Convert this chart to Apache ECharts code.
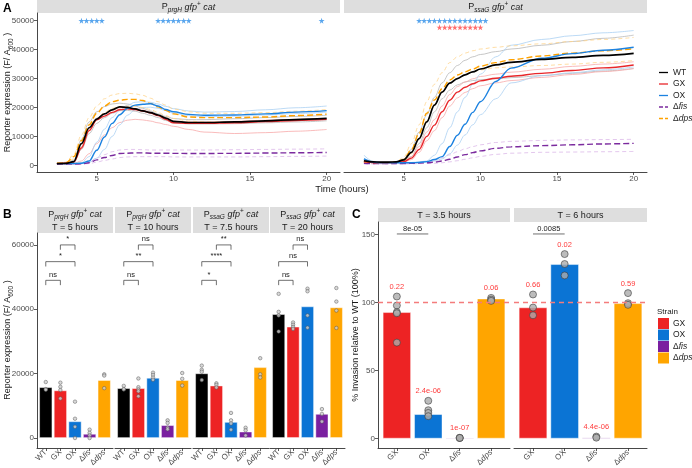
<!DOCTYPE html>
<html><head><meta charset="utf-8">
<script src="https://cdn.jsdelivr.net/npm/echarts@6/dist/echarts.min.js"></script>
<style>html,body{margin:0;padding:0;background:#fff}#c{width:692px;height:468px}</style>
</head><body><div id="c"></div>
<script>
// ---------------- DATA ----------------
const strains = ['WT','GX','OX','Δfis','Δdps'];
const timeA = [2.4,3,3.5,4,4.5,5,5.5,6,6.5,7,7.5,8,8.5,9,9.5,10,11,12,14,16,18,20];
const ticksAx = [5,10,15,20];
const ticksAy = [0,10000,20000,30000,40000,50000];
const ticksBy = [0,20000,40000,60000];
const ticksCy = [0,50,100,150];

// PprgH reporter (panel A left)
const prgH_WT  = [600,700,1300,7500,13000,16000,17800,19200,20200,20000,19500,18800,18200,17400,16300,15200,14800,14800,15000,15400,15800,16200];
const prgH_GX  = [600,700,1200,6000,12000,15700,17000,18300,19200,19500,19300,18800,18100,17200,15900,14700,14500,14500,14700,15100,15500,15900];
const prgH_OX  = [600,600,650,700,1500,5200,9800,14500,17500,19700,20800,21100,21300,20500,19300,18500,17600,17300,17400,17800,18400,18900];
const prgH_fis = [450,450,450,500,900,1900,2700,3400,4100,4200,4300,4300,4200,4200,4200,4150,4100,4100,4150,4250,4350,4450];
const prgH_dps = [700,900,3000,8500,14000,18000,20500,22000,22500,22800,22800,22400,21400,20200,19000,17800,16700,16500,16500,16700,17200,17700];
const prgH_WT_hi  = [600,800,1800,9000,15000,18500,20300,21200,21500,21200,20500,19700,18800,17800,16900,16200,15800,15800,16100,16500,16900,17300];
const prgH_WT_lo  = [600,650,1000,5500,11000,14500,16500,18000,18900,19000,18700,18000,17300,16500,15500,14700,14300,14300,14400,14700,15000,15400];
const prgH_GX_hi  = [600,700,1300,6500,12500,16300,17800,19000,19800,20000,19700,19100,18400,17400,16200,15300,15000,15000,15200,15600,15900,16200];
const prgH_GX_lo  = [600,600,700,1500,4000,7500,10500,13000,14800,15600,15900,15700,15300,14700,14100,13500,12400,11500,11000,11300,11800,12400];
const prgH_OX_hi  = [600,600,700,900,3000,8000,12500,16500,19000,20800,21800,22000,21800,21200,20400,19600,18800,18400,18600,19200,19900,20500];
const prgH_OX_lo  = [600,600,600,650,1000,2500,5500,10000,14000,17300,19200,20000,20100,19700,18900,18000,17200,16800,17000,17400,17900,18400];
const prgH_fis_hi = [500,500,500,600,1100,2500,3700,4700,5300,5500,5500,5400,5300,5300,5300,5300,5300,5300,5400,5500,5600,5700];
const prgH_fis_lo = [400,400,400,450,600,1100,1700,2200,2700,2900,3000,3000,3000,3000,3000,2900,2900,2900,2900,3000,3100,3200];
const prgH_dps_hi = [800,1100,3800,10500,16500,20500,23000,24300,24800,24900,24700,24200,23200,22000,20800,19500,18500,18000,18000,18200,18700,19300];
const prgH_dps_lo = [600,800,2200,6500,12000,15800,18300,19700,20300,20500,20400,20000,19300,18300,17200,16200,15300,15000,15000,15200,15700,16200];

// PssaG reporter (panel A right)
const ssaG_WT  = [1600,1200,1100,1100,1200,1900,4500,9200,15000,20800,25300,28400,30000,31300,32300,33300,34700,35600,36600,37300,38000,38700];
const ssaG_GX  = [1300,1000,900,900,1000,1300,2500,5500,10000,13900,18500,22500,25300,27000,28200,29200,30100,30800,31800,32800,33700,34700];
const ssaG_OX  = [2200,1100,900,900,900,900,900,1000,1300,2000,3000,6500,10400,14200,18300,22000,29000,33600,37000,38600,39800,40800];
const ssaG_fis = [700,600,600,600,600,600,700,800,900,1100,1500,2100,2900,3700,4400,5000,5900,6400,6800,7100,7400,7600];
const ssaG_dps = [1300,1000,900,900,1100,2000,5500,11000,18000,22600,26500,29500,31200,32300,33300,34300,35500,36500,37800,38800,39600,40300];
const ssaG_WT_hi  = [1800,1300,1200,1200,1300,2200,5500,11500,17500,23500,28500,32000,34500,36300,37500,38300,39300,40200,41500,42800,43900,45000];
const ssaG_WT_lo  = [1500,1100,1000,1000,1100,1600,3000,7500,13000,18500,23000,26000,27800,28800,29300,29600,29900,30300,31000,31800,32600,33500];
const ssaG_GX_hi  = [1400,1100,1000,1000,1100,1500,3000,6500,11500,15800,20500,24500,27200,28800,29900,30700,31500,32200,33200,34200,35000,35800];
const ssaG_GX_lo  = [1200,950,850,850,900,1100,2000,4500,8500,12000,16500,20500,23300,25200,26500,27500,28500,29300,30400,31400,32400,33400];
const ssaG_OX_hi  = [3500,1400,1000,1000,1000,1000,1000,1200,1500,3500,7500,13000,18500,23500,28000,31500,37500,41500,43500,44800,45800,46600];
const ssaG_OX_lo  = [2500,1200,900,900,900,900,900,1000,1200,1500,2200,4000,7000,10500,14000,17500,23000,28500,31000,32000,33000,34000];
const ssaG_fis_hi = [900,700,700,700,700,700,800,1000,1300,1800,2600,3600,4700,5700,6500,7100,7900,8300,8600,8800,8900,9000];
const ssaG_fis_lo = [500,500,500,500,500,500,550,600,650,700,900,1200,1600,2100,2600,3100,3800,4200,4500,4600,4700,4800];
const ssaG_dps_hi = [1500,1100,1000,1000,1300,2800,7500,14000,22000,28000,32000,35500,37500,38800,39600,40200,40800,41300,42000,42800,43500,44200];
const ssaG_dps_lo = [1100,900,800,800,950,1500,4000,9000,15500,21000,25500,28500,30000,31300,32300,33000,33700,34000,34500,35000,35600,36200];

// significance stars (time points)
const starsPrgHBlue = [4,4.33,4.67,5,5.33,9,9.33,9.67,10,10.33,10.67,11,19.67];
const starsSsaGBlue = [6,6.33,6.67,7,7.33,7.67,8,8.33,8.67,9,9.33,9.67,10,10.33];
const starsSsaGRed  = [7.33,7.67,8,8.33,8.67,9,9.33,9.67,10];

// Panel B
const stripB1 = ['prgH','prgH','ssaG','ssaG'];
const stripB2 = ['T = 5 hours','T = 10 hours','T = 7.5 hours','T = 20 hours'];
const barB_prgH5  = [15800,14800,5200,1300,18000];
const barB_prgH10 = [15500,15500,18700,4000,18000];
const barB_ssaG75 = [20100,16300,5000,2000,22000];
const barB_ssaG20 = [38500,34600,40900,7500,40600];
const ptsB_prgH5  = [[17400,15200,15000],[17200,15900,14900,12300],[11300,6000,3500,0],[2600,1600,800,0],[19800,19400,15500]];
const ptsB_prgH10 = [[16200,15100,15200],[18500,15800,15100,14500,13000],[20300,19600,18800,18100],[5500,4700,3200,2700],[20200,18400,16300]];
const ptsB_ssaG75 = [[22500,21200,20600,18000],[17000,16500,15700],[7800,5500,4500,2600],[3200,2400,800],[24800,19800,18800]];
const ptsB_ssaG20 = [[44800,39200,38100,33100],[35900,35200,34500,33900],[46400,45600,38100,34300],[9000,7500,5100],[46600,42400,39600,34200]];
const sigB_labels = [['ns','*','*'],['ns','**','ns'],['*','****','**'],['ns','ns','ns']];
const sigB_pairs = [[0,1],[0,2],[1,2]];

// Panel C
const strainsC = ['GX','OX','Δfis','Δdps'];
const stripC = ['T = 3.5 hours','T = 6 hours'];
const barC_35 = [93,18,0.7,103];
const barC_6  = [96.5,128.3,0.8,99.6];
const ptsC_35 = [[104.5,97.9,93,92.2,70.6],[27.8,20.9,18.9,16.5],[0.5,0.5,0.5],[103.5,102.2,101.3]];
const ptsC_6  = [[106,96.4,90.7],[135.7,128.4,120],[1.5,0.7],[107,99.6,98.4]];
const pC_35 = ['0.22','2.4e-06','1e-07','0.06'];
const pC_6  = ['0.66','0.02','4.4e-06','0.59'];
const sigC_labels = [['8e-05'],['0.0085']];
const refLineC = 100;

// ---------------- STYLE ----------------
const FF = '"Liberation Sans", Arial, sans-serif';
const colLine  = {'WT':'#000000','GX':'#E8262A','OX':'#1C82E0','Δfis':'#7B2A9E','Δdps':'#FFA200'};
const colFaint = {'WT':'#b8b8b8','GX':'#f7a9a9','OX':'#abd1f3','Δfis':'#dcb9e8','Δdps':'#ffd48c'};
const colBar   = {'WT':'#000000','GX':'#ED2324','OX':'#0B74D4','Δfis':'#7A1FA0','Δdps':'#FFA500'};
const AXC = '#333333', TXC = '#4D4D4D';
const plainNum = v => String(Math.round(v));

const G = [
  {left:37, top:13, width:303, height:159},
  {left:344, top:13, width:303, height:159},
  {left:37, top:233, width:76, height:215},
  {left:115, top:233, width:76, height:215},
  {left:193, top:233, width:76, height:215},
  {left:270, top:233, width:75, height:215},
  {left:378, top:222, width:132, height:226},
  {left:514, top:222, width:133, height:226}
];
const grids = G.map(g => Object.assign({outerBoundsMode:'none', containLabel:false}, g));

function fmtStrain(s){ return s.charAt(0)==='Δ' ? '{n|Δ}{i|'+s.slice(1)+'}' : s; }
const richLab = {n:{fontSize:8,color:TXC,fontFamily:FF}, i:{fontSize:8,color:TXC,fontFamily:FF,fontStyle:'italic'}};

const xAxes = [], yAxes = [];
function yAx(gi, min, max, ticks, show){
  return {type:'value', gridIndex:gi, min:min, max:max, show:show,
    axisLine:{show:true,onZero:false,lineStyle:{color:AXC,width:0.9}},
    axisTick:{show:true,customValues:ticks,length:3,lineStyle:{color:AXC,width:0.8}},
    axisLabel:{customValues:ticks,fontSize:8,color:TXC,fontFamily:FF,margin:3,formatter:plainNum},
    splitLine:{show:false}};
}
// A
for (let p=0;p<2;p++){
  xAxes.push({type:'value', gridIndex:p, min:1.1, max:20.87,
    axisLine:{show:true,onZero:false,lineStyle:{color:AXC,width:0.9}},
    axisTick:{show:true,customValues:ticksAx,length:3,lineStyle:{color:AXC,width:0.8}},
    axisLabel:{customValues:ticksAx,fontSize:8,color:TXC,fontFamily:FF,margin:3,formatter:plainNum},
    splitLine:{show:false}});
  yAxes.push(yAx(p, -2300, 52650, ticksAy, p===0));
}
// B
for (let f=0;f<4;f++){
  const gi = 2+f;
  xAxes.push({type:'value', gridIndex:gi, min:0.4, max:5.6,
    axisLine:{show:true,onZero:false,lineStyle:{color:AXC,width:0.9}},
    axisTick:{show:true,customValues:[1,2,3,4,5],length:3,lineStyle:{color:AXC,width:0.8}},
    axisLabel:{customValues:[1,2,3,4,5],rotate:45,fontSize:8,color:TXC,fontFamily:FF,margin:3,
      formatter:v=>fmtStrain(strains[Math.round(v)-1]), rich:richLab},
    splitLine:{show:false}});
  yAxes.push(yAx(gi, -3100, 63700, ticksBy, f===0));
}
// C
for (let f=0;f<2;f++){
  const gi = 6+f;
  xAxes.push({type:'value', gridIndex:gi, min:0.4, max:4.6,
    axisLine:{show:true,onZero:false,lineStyle:{color:AXC,width:0.9}},
    axisTick:{show:true,customValues:[1,2,3,4],length:3,lineStyle:{color:AXC,width:0.8}},
    axisLabel:{customValues:[1,2,3,4],rotate:45,fontSize:8,color:TXC,fontFamily:FF,margin:3,
      formatter:v=>fmtStrain(strainsC[Math.round(v)-1]), rich:richLab},
    splitLine:{show:false}});
  yAxes.push(yAx(gi, -6.9, 159.3, ticksCy, f===0));
}

const series = [];
function mk(arr){ return timeA.map((t,i)=>[t,arr[i]]); }
const panelsA = [
  {main:{'WT':prgH_WT,'GX':prgH_GX,'OX':prgH_OX,'Δfis':prgH_fis,'Δdps':prgH_dps},
   faint:[['WT',prgH_WT_hi],['WT',prgH_WT_lo],['GX',prgH_GX_hi],['GX',prgH_GX_lo],['OX',prgH_OX_hi],['OX',prgH_OX_lo],['Δfis',prgH_fis_hi],['Δfis',prgH_fis_lo],['Δdps',prgH_dps_hi],['Δdps',prgH_dps_lo]]},
  {main:{'WT':ssaG_WT,'GX':ssaG_GX,'OX':ssaG_OX,'Δfis':ssaG_fis,'Δdps':ssaG_dps},
   faint:[['WT',ssaG_WT_hi],['WT',ssaG_WT_lo],['GX',ssaG_GX_hi],['GX',ssaG_GX_lo],['OX',ssaG_OX_hi],['OX',ssaG_OX_lo],['Δfis',ssaG_fis_hi],['Δfis',ssaG_fis_lo],['Δdps',ssaG_dps_hi],['Δdps',ssaG_dps_lo]]}
];
const isDashed = s => s==='Δfis' || s==='Δdps';
panelsA.forEach((P,p)=>{
  P.faint.forEach(([s,arr])=>{
    series.push({type:'line', xAxisIndex:p, yAxisIndex:p, data:mk(arr), smooth:0.35, smoothMonotone:'x',
      symbol:'none', silent:true, z:2,
      lineStyle:{color:colFaint[s], width:0.8, type:isDashed(s)?[4,3]:'solid'}});
  });
  ['Δfis','Δdps','GX','OX','WT'].forEach(s=>{
    series.push({type:'line', xAxisIndex:p, yAxisIndex:p, data:mk(P.main[s]), smooth:0.35, smoothMonotone:'x',
      symbol:'none', silent:true, z:3,
      lineStyle:{color:colLine[s], width:s==='WT'?1.7:1.4, type:isDashed(s)?[6,3]:'solid'}});
  });
});
const starPath = 'path://M50,0 L61,35 L98,35 L68,57 L79,91 L50,70 L21,91 L32,57 L2,35 L39,35 Z';
function starSeries(p, ts, yv, color){
  return {type:'scatter', xAxisIndex:p, yAxisIndex:p, symbol:starPath, symbolSize:6, silent:true, z:4,
    data: ts.map(t=>[t,yv]), itemStyle:{color:color}};
}
series.push(starSeries(0, starsPrgHBlue, 50000, '#2E8FE8'));
series.push(starSeries(1, starsSsaGBlue, 50000, '#2E8FE8'));
series.push(starSeries(1, starsSsaGRed, 47700, '#FF4A4A'));

// B
const barsB = [barB_prgH5, barB_prgH10, barB_ssaG75, barB_ssaG20];
const ptsB = [ptsB_prgH5, ptsB_prgH10, ptsB_ssaG75, ptsB_ssaG20];
const bracketLevelsB = [49000, 54800, 60000];
function bracketSeries(gi, data, labels, tip, fs){
  return {type:'custom', xAxisIndex:gi, yAxisIndex:gi, silent:true, z:6, data:data,
    encode:{x:[0,1], y:2},
    renderItem:(params, api)=>{
      const a = api.coord([api.value(0), api.value(2)]);
      const b = api.coord([api.value(1), api.value(2)]);
      const d = tip ? api.size([0, tip])[1] : 0;
      const pts = d ? [[a[0],a[1]+d],[a[0],a[1]],[b[0],b[1]],[b[0],b[1]+d]] : [[a[0],a[1]],[b[0],b[1]]];
      return {type:'group', children:[
        {type:'polyline', shape:{points:pts}, style:{stroke:'#333', lineWidth:0.7, fill:null}},
        {type:'text', x:(a[0]+b[0])/2, y:a[1]-1.5, style:{text:labels[params.dataIndex], fill:'#222',
          font:fs+'px '+FF, align:'center', verticalAlign:'bottom', textAlign:'center', textVerticalAlign:'bottom'}}
      ]};
    }};
}
for (let f=0;f<4;f++){
  const gi = 2+f;
  series.push({type:'bar', xAxisIndex:gi, yAxisIndex:gi, barWidth:0.9*G[gi].width/5.2, silent:true, z:2,
    data: strains.map((s,i)=>({value:[i+1, barsB[f][i]], itemStyle:{color:colBar[s], borderColor:'rgba(255,255,255,0.55)', borderWidth:0.8}}))});
  const pd = [];
  ptsB[f].forEach((arr,i)=>arr.forEach(v=>pd.push([i+1,v])));
  series.push({type:'scatter', xAxisIndex:gi, yAxisIndex:gi, symbolSize:3.5, silent:true, z:4, data:pd,
    itemStyle:{color:'#D0D0D0', borderColor:'#555', borderWidth:0.6}});
  series.push(bracketSeries(gi, sigB_pairs.map((pr,k)=>[pr[0]+1, pr[1]+1, bracketLevelsB[k]]), sigB_labels[f], 1500, 7.5));
}

// C
const barsC = [barC_35, barC_6];
const ptsC = [ptsC_35, ptsC_6];
const pC = [pC_35, pC_6];
const bracketLevelC = 150.5;
const pLabelGap = 7;
for (let f=0;f<2;f++){
  const gi = 6+f;
  series.push({type:'bar', xAxisIndex:gi, yAxisIndex:gi, barWidth:0.9*G[gi].width/4.2, silent:true, z:2,
    data: strainsC.map((s,i)=>({value:[i+1, barsC[f][i]], itemStyle:{color:colBar[s], borderColor:'rgba(255,255,255,0.55)', borderWidth:0.8}})),
    markLine:{silent:true, symbol:['none','none'], label:{show:false}, data:[{yAxis:refLineC}],
      lineStyle:{color:'#F47C7C', type:[5,4], width:1.3}}});
  const pd = [];
  ptsC[f].forEach((arr,i)=>arr.forEach(v=>pd.push([i+1,v])));
  series.push({type:'scatter', xAxisIndex:gi, yAxisIndex:gi, symbolSize:7, silent:true, z:4, data:pd,
    itemStyle:{color:'#ABABAB', borderColor:'#333', borderWidth:0.7}});
  const texts = pC[f];
  series.push({type:'custom', xAxisIndex:gi, yAxisIndex:gi, silent:true, z:6,
    data: ptsC[f].map((arr,i)=>[i+1, Math.max.apply(null,arr)+pLabelGap]),
    renderItem:(params, api)=>{
      const c = api.coord([api.value(0), api.value(1)]);
      return {type:'text', x:c[0], y:c[1], style:{text:texts[params.dataIndex], fill:'#FF3B3B',
        font:'7.5px '+FF, align:'center', verticalAlign:'middle', textAlign:'center', textVerticalAlign:'middle'}};
    }});
  series.push(bracketSeries(gi, [[1,2,bracketLevelC]], sigC_labels[f], 0, 7.5));
}

// ---------------- GRAPHIC (strips, titles, legends) ----------------
const elements = [];
function T(x,y,text,opt){
  opt = opt||{};
  const st = Object.assign({text:text, fill:opt.fill||'#1A1A1A', fontSize:opt.fontSize||9, fontFamily:FF,
    fontWeight:opt.fontWeight||'normal', fontStyle:opt.fontStyle||'normal',
    align:opt.align||'center', verticalAlign:opt.va||'middle', textAlign:opt.align||'center', textVerticalAlign:opt.va||'middle',
    lineHeight:opt.lineHeight||13}, opt.rich?{rich:opt.rich}:{});
  elements.push({type:'text', x:x, y:y, rotation:opt.rotation||0, silent:true, style:st});
}
function R(x,y,w,h,fill){ elements.push({type:'rect', silent:true, shape:{x:x,y:y,width:w,height:h}, style:{fill:fill}}); }
const stripFill = '#DEDEDE';
const richStrip = {
  sub:{fontSize:6.5, fontStyle:'italic', fontFamily:FF, fill:'#1A1A1A', verticalAlign:'bottom'},
  sup:{fontSize:6.5, fontFamily:FF, fill:'#1A1A1A', verticalAlign:'top'},
  it:{fontSize:9, fontStyle:'italic', fontFamily:FF, fill:'#1A1A1A'}
};
const stripTxt = g => 'P{sub|'+g+'} {it|gfp}{sup|+}{it| cat}';
// A strips
R(37,0,303,13,stripFill); R(344,0,303,13,stripFill);
T(188.5,7,stripTxt('prgH'),{rich:richStrip});
T(495.5,7,stripTxt('ssaG'),{rich:richStrip});
// B strips
for (let f=0;f<4;f++){
  const g = G[2+f];
  R(g.left,207,g.width,26,stripFill);
  T(g.left+g.width/2,221,stripTxt(stripB1[f])+'\n'+stripB2[f],{rich:richStrip});
}
// C strips
for (let f=0;f<2;f++){
  const g = G[6+f];
  R(g.left,208,g.width,14,stripFill);
  T(g.left+g.width/2,215.5,stripC[f],{});
}
// panel letters
T(3,9,'A',{fontSize:12,fontWeight:'bold',align:'left',fill:'#000'});
T(3,215,'B',{fontSize:12,fontWeight:'bold',align:'left',fill:'#000'});
T(352,215,'C',{fontSize:12,fontWeight:'bold',align:'left',fill:'#000'});
// axis titles
const richY = {sub:{fontSize:6.5, fontFamily:FF, fill:'#1A1A1A', verticalAlign:'bottom'}};
T(8,92.5,'Reporter expression (F/ A{sub|600} )',{rotation:Math.PI/2,rich:richY,fontSize:9});
T(8,340,'Reporter expression (F/ A{sub|600} )',{rotation:Math.PI/2,rich:richY,fontSize:9});
T(356,335,'% Invasion relative to WT (100%)',{rotation:Math.PI/2,fontSize:9});
T(342,189,'Time (hours)',{fontSize:9.5});
// legend A
const legY = [72.5,84,95.5,107,118.5];
const richLeg = {n:{fontSize:8.5,fontFamily:FF,fill:'#1A1A1A'}, i:{fontSize:8.5,fontFamily:FF,fill:'#1A1A1A',fontStyle:'italic'}};
strains.forEach((s,k)=>{
  elements.push({type:'line', silent:true, shape:{x1:659,y1:legY[k],x2:668,y2:legY[k]},
    style:{stroke:colLine[s], lineWidth:1.3, lineDash:isDashed(s)?[4,2]:null}});
  T(673,legY[k],fmtStrain(s),{align:'left',fontSize:8.5,rich:richLeg});
});
// legend C
T(657,312,'Strain',{align:'left',fontSize:8});
const legCY = [318,329.5,341,352.5];
strainsC.forEach((s,k)=>{
  R(658,legCY[k],11,11,colBar[s]);
  T(673,legCY[k]+5.5,fmtStrain(s),{align:'left',fontSize:8.5,rich:richLeg});
});

const chart = echarts.init(document.getElementById('c'), null, {renderer:'canvas'});
chart.setOption({
  animation:false,
  backgroundColor:'#ffffff',
  textStyle:{fontFamily:FF},
  grid:grids, xAxis:xAxes, yAxis:yAxes, series:series,
  graphic:{elements:elements}
});
</script></body></html>
